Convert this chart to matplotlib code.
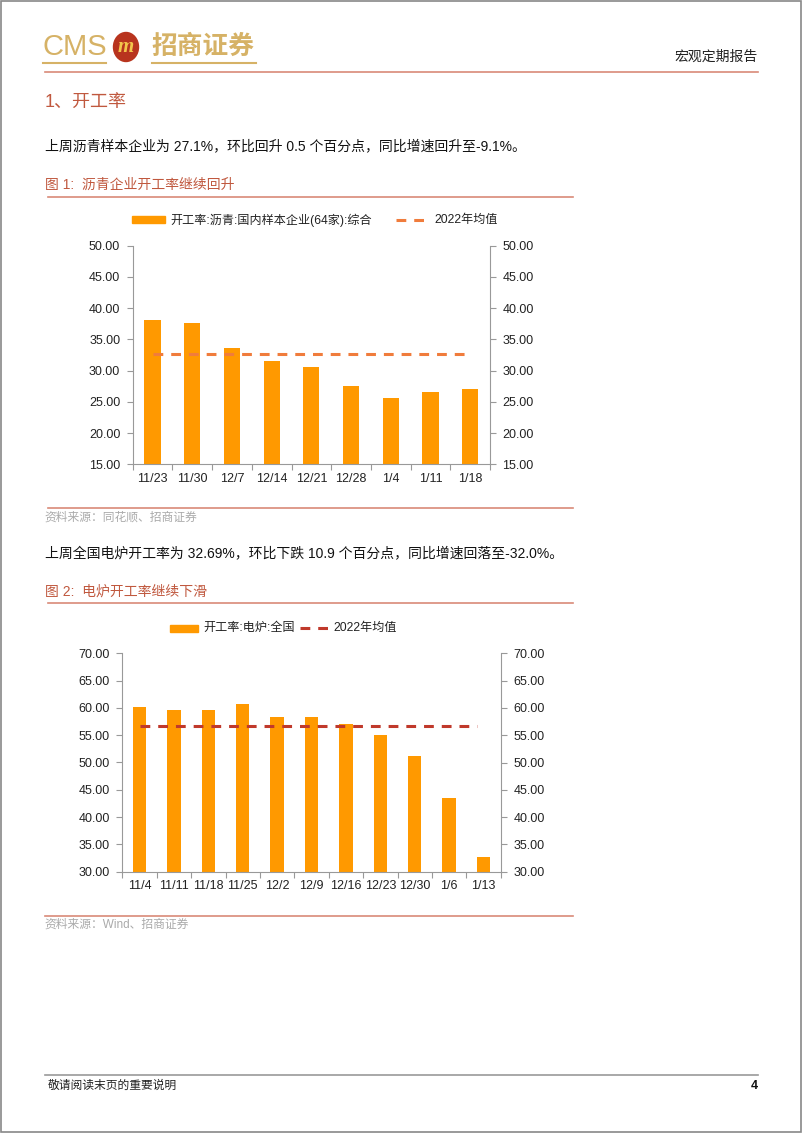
import matplotlib.pyplot as plt
import matplotlib.patches as mpatches
from matplotlib.lines import Line2D

plt.rcParams['font.family'] = ['Liberation Sans', 'Noto Sans CJK SC', 'DejaVu Sans']

# chart 1: asphalt
dates1 = ["11/23", "11/30", "12/7", "12/14", "12/21", "12/28", "1/4", "1/11", "1/18"]
rate1 = [38.1, 37.6, 33.6, 31.5, 30.6, 27.5, 25.6, 26.6, 27.1]
mean1 = 32.7
label1 = "开工率:沥青:国内样本企业(64家):综合"

# chart 2: electric furnace
dates2 = ["11/4", "11/11", "11/18", "11/25", "12/2", "12/9", "12/16", "12/23", "12/30", "1/6", "1/13"]
rate2 = [60.2, 59.6, 59.6, 60.8, 58.3, 58.3, 57.0, 55.0, 51.2, 43.5, 32.69]
mean2 = 56.7
label2 = "开工率:电炉:全国"

W, H = 802, 1133
BAR = "#FF9900"
RED = "#C0583E"
GOLD = "#D6B266"
TICK_FS = 9


def fx(x):
    return x / W


def fy(y):
    return 1 - y / H


def add_chart(fig, box, dates, vals, mean, ylim, step, label, line_color, bar_w, line_end, leg_y, leg_x):
    l, t, r, b = box
    ax = fig.add_axes([fx(l), fy(b), fx(r - l), (b - t) / H])
    n = len(dates)
    x = list(range(n))
    ax.bar(x, vals, width=bar_w, color=BAR, zorder=2)
    ax.plot([0, line_end], [mean, mean], color=line_color, lw=2.2, ls=(0, (3.2, 2.6)), zorder=3)
    ax.set_xlim(-0.5, n - 0.5)
    ax.set_ylim(*ylim)
    yt = [ylim[0] + i * step for i in range(int((ylim[1] - ylim[0]) / step) + 1)]
    ax.set_yticks(yt)
    ax.set_yticklabels([f"{v:.2f}" for v in yt])
    ax.set_xticks([i + 0.5 for i in range(-1, n)], minor=False)
    ax.set_xticklabels([])
    ax.set_xticks(x, minor=True)
    ax.set_xticklabels(dates, minor=True)
    ax.tick_params(axis='x', which='major', length=4, color='#999999')
    ax.tick_params(axis='x', which='minor', length=0, pad=6, labelsize=TICK_FS, labelcolor='#222222')
    ax.tick_params(axis='y', length=4, color='#999999', labelsize=TICK_FS, labelcolor='#222222', pad=5)
    for s in ['top', 'right']:
        ax.spines[s].set_visible(False)
    for s in ['left', 'bottom']:
        ax.spines[s].set_color('#999999')
    ax2 = ax.twinx()
    ax2.set_ylim(*ylim)
    ax2.set_yticks(yt)
    ax2.set_yticklabels([f"{v:.2f}" for v in yt])
    ax2.tick_params(axis='y', length=4, color='#999999', labelsize=TICK_FS, labelcolor='#222222', pad=5)
    for s in ['top', 'left', 'bottom']:
        ax2.spines[s].set_visible(False)
    ax2.spines['right'].set_color('#999999')

    # legend drawn by hand to place it like the reference
    px, tx, dx0, dx1, tx2 = leg_x
    fig.patches.append(mpatches.Rectangle((fx(px), fy(leg_y + 3.5)), fx(tx - px - 5), 7 / H,
                                          transform=fig.transFigure, color=BAR))
    fig.text(fx(tx), fy(leg_y), label, fontsize=8.7, va='center', color='#222222')
    fig.lines.append(Line2D([fx(dx0), fx(dx1)], [fy(leg_y), fy(leg_y)], transform=fig.transFigure,
                            color=line_color, lw=2.2, ls=(0, (3.2, 2.6))))
    fig.text(fx(tx2), fy(leg_y), "2022年均值", fontsize=8.7, va='center', color='#222222')
    return ax


fig = plt.figure(figsize=(W / 100, H / 100), dpi=100)

# page frame
fig.patches.append(mpatches.Rectangle((0.001, 0.001), 0.998, 0.998, transform=fig.transFigure,
                                      fill=False, ec='#888888', lw=1.2))

# header logo
fig.text(fx(42), fy(47), "CMS", fontsize=21, color=GOLD, va='center', family=['Liberation Sans'])
fig.patches.append(mpatches.Ellipse((fx(126), fy(47)), 25 / W, 29 / H, transform=fig.transFigure,
                                    color='#B8341E'))
fig.text(fx(126), fy(47), "m", fontsize=15, color='#F3C54B', fontweight='bold', style='italic',
         ha='center', va='center', family=['Liberation Serif'])
fig.text(fx(151), fy(46), "招商证券", fontsize=18.5, color=GOLD, fontweight='bold', va='center',
         family=['Noto Sans CJK SC'])
fig.lines.append(Line2D([fx(43), fx(106)], [fy(63), fy(63)], transform=fig.transFigure, color=GOLD, lw=1.5))
fig.lines.append(Line2D([fx(152), fx(256)], [fy(63), fy(63)], transform=fig.transFigure, color=GOLD, lw=1.5))
fig.text(fx(758), fy(57), "宏观定期报告", fontsize=10, color='#222222', ha='right', va='center')
fig.lines.append(Line2D([fx(45), fx(758)], [fy(72), fy(72)], transform=fig.transFigure, color='#D98A78', lw=1.2))

# section title and text
fig.text(fx(45), fy(102), "1、开工率", fontsize=13, color=RED, va='center')
fig.text(fx(45), fy(146), "上周沥青样本企业为 27.1%，环比回升 0.5 个百分点，同比增速回升至-9.1%。",
         fontsize=10, color='#111111', va='center')
fig.text(fx(45), fy(185), "图 1:  沥青企业开工率继续回升", fontsize=10, color=RED, va='center')
fig.lines.append(Line2D([fx(48), fx(573)], [fy(197), fy(197)], transform=fig.transFigure, color='#D98A78', lw=1.2))

add_chart(fig, (132.7, 245.7, 490, 464.3), dates1, rate1, mean1, (15, 50), 5, label1,
          '#F07C3C', 0.41, 8, 220, (132, 170, 396, 430, 434))

fig.lines.append(Line2D([fx(48), fx(573)], [fy(508), fy(508)], transform=fig.transFigure, color='#D98A78', lw=1.2))
fig.text(fx(44), fy(518), "资料来源：同花顺、招商证券", fontsize=8.5, color='#AAAAAA', va='center')

fig.text(fx(45), fy(553), "上周全国电炉开工率为 32.69%，环比下跌 10.9 个百分点，同比增速回落至-32.0%。",
         fontsize=10, color='#111111', va='center')
fig.text(fx(45), fy(592), "图 2:  电炉开工率继续下滑", fontsize=10, color=RED, va='center')
fig.lines.append(Line2D([fx(48), fx(573)], [fy(603), fy(603)], transform=fig.transFigure, color='#D98A78', lw=1.2))

add_chart(fig, (122.3, 653.3, 500.7, 871.7), dates2, rate2, mean2, (30, 70), 5, label2,
          '#C0392B', 0.39, 9.8, 628, (170, 203, 300, 330, 333))

fig.lines.append(Line2D([fx(45), fx(573)], [fy(916), fy(916)], transform=fig.transFigure, color='#D98A78', lw=1.2))
fig.text(fx(44), fy(925), "资料来源：Wind、招商证券", fontsize=8.5, color='#AAAAAA', va='center')

# footer
fig.lines.append(Line2D([fx(45), fx(758)], [fy(1075), fy(1075)], transform=fig.transFigure, color='#999999', lw=1.2))
fig.text(fx(48), fy(1086), "敬请阅读末页的重要说明", fontsize=8.5, color='#222222', va='center')
fig.text(fx(758), fy(1086), "4", fontsize=9, color='#111111', fontweight='bold', ha='right', va='center')

fig.savefig("out.png", dpi=100)
